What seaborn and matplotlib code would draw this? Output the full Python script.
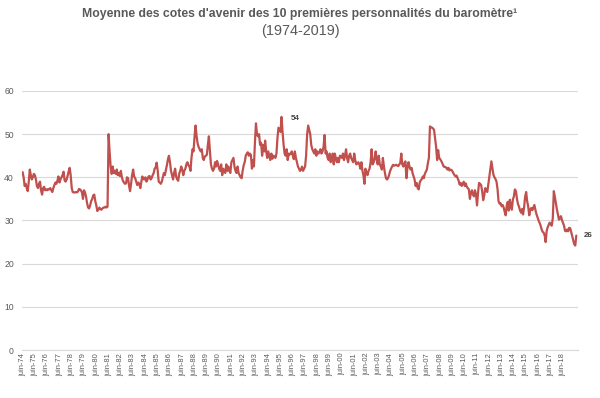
import pandas as pd
import seaborn as sns
import matplotlib.pyplot as plt

# moyenne mensuelle, une ligne = juin -> mai
debut = "1974-06-01"
cote = [
    41.2, 40, 38, 38.5, 37.5, 36.8, 39, 41.8, 40.5, 39.5, 40, 40.8,
    40.5, 39.5, 38, 37.5, 38.5, 39, 37, 36, 37.5, 37.8, 37, 37.2,
    37, 37.3, 37.2, 37.5, 37, 36.6, 37.5, 38.2, 38.8, 38.5, 39.2, 40.2,
    38.8, 39.5, 40, 40.5, 41.3, 39.3, 39, 39.5, 40.5, 41.3, 42.2, 40.5,
    37.5, 36.6, 36.5, 36.5, 36.6, 36.5, 36.7, 37.3, 37.2, 37, 36.5, 35,
    37, 36.5, 35.5, 34, 33, 32.8, 33.5, 34.5, 35, 35.8, 36, 34.5,
    33.5, 32.2, 32.5, 33, 32.6, 32.5, 32.8, 33, 33, 33.2, 33, 33.2,
    50, 46, 42.5, 40.8, 42.5, 41, 41.5, 40.8, 41.8, 40.5, 41, 40.3,
    41.5, 40, 39.2, 38.8, 38.5, 38.6, 40, 39.8, 38, 36.8, 38.5, 40.5,
    41.8, 40.2, 39.8, 39, 38.2, 38.8, 38.5, 37.5, 39, 40.2, 39.6, 39.5,
    40, 39, 39.5, 40.2, 40.3, 39.5, 39.8, 40.5, 41, 42, 42.3, 43.4,
    41.5, 39, 38.8, 38.5, 39, 40, 41, 40.5, 41.8, 42.8, 44.2, 45,
    43.5, 41.5, 40.5, 39.5, 41, 42, 40.2, 39.5, 39.2, 40.8, 41.5, 42.5,
    41.8, 40.5, 41.5, 42, 43, 43.5, 42.8, 42.5, 41.5, 44.5, 46.5, 46,
    49.5, 52, 49.5, 47.8, 47, 46.5, 46, 46.5, 44.5, 44, 44.8, 45,
    45.2, 47.5, 49.5, 46, 43, 42, 41.5, 42, 43.5, 42.5, 43.8, 43,
    42, 41.5, 43, 40.5, 42, 41.5, 41, 43, 41.5, 42.5, 41.5, 41,
    43.5, 44, 44.5, 42.5, 41.5, 41, 42.5, 41, 40.5, 40, 39.8, 41.5,
    42.8, 43.5, 45, 45.5, 45.8, 45, 45.5, 45.2, 42, 44, 42.5, 48,
    52.5, 50, 49.5, 50, 47.5, 48, 45, 47.5, 46, 48.5, 46, 44.5,
    46, 45, 44, 45.5, 44.3, 45, 44.8, 44.5, 45.5, 49, 51.5, 51,
    50.5, 54, 50.5, 47.5, 45.5, 45, 46.5, 44, 45.5, 45.3, 45.5, 46,
    45, 44.2, 46, 44.5, 43.5, 42.5, 42, 41.5, 41.8, 42.5, 41.5, 42,
    42.5, 45, 50, 52, 51, 50, 47.5, 46.5, 46, 45.5, 46.5, 45,
    46, 45.5, 45.8, 46.5, 45.5, 46, 47, 49.8, 45.5, 46, 44.5, 44,
    45.5, 43.5, 44, 45.5, 43, 45.5, 44.5, 43.5, 44.5, 43.5, 45, 44.8,
    44.5, 45.5, 44, 45, 46.5, 44.5, 43.5, 45, 45.5, 44.5, 44, 43.5,
    45.5, 44, 43, 43.2, 43.5, 43, 42, 43.5, 41.5, 40.5, 38.5, 42,
    41, 40.5, 41.5, 42, 43.5, 46.5, 43, 43.5, 44.5, 46, 44, 43,
    45, 43, 42.5, 41.8, 44.5, 42.5, 41, 39.8, 39.5, 39.8, 40.5, 41.4,
    42, 42.5, 42.9, 42.7, 42.8, 42.9, 42.7, 42.6, 43, 43.3, 45.5, 43,
    42.5, 43.2, 43.7, 39.8, 42.2, 43.5, 42.5, 41.8, 42.2, 41, 40.2, 39.5,
    38, 38.7, 37.5, 37.2, 38.8, 39.3, 39.6, 40.2, 39.8, 40.8, 41.3, 41.8,
    43.3, 44.5, 51.8, 51.6, 51.5, 51.3, 51, 49, 47, 44, 46.3, 44.5,
    44.2, 43.8, 43.3, 42.7, 42.4, 42.4, 42.2, 41.8, 42.2, 41.6, 41.8, 41.7,
    41.4, 40.9, 40.5, 40.2, 40.4, 39.8, 39.2, 38.3, 38.7, 38, 38.5, 39,
    38, 38.6, 37.8, 37.5, 37.2, 35, 36.4, 37, 36, 35.6, 37, 36,
    33.5, 36.4, 38.7, 38.5, 38.2, 36.8, 34.7, 35.8, 37.5, 37, 36.6, 38.3,
    40.2, 41.9, 43.7, 42.2, 40.6, 40, 39.6, 39, 37.2, 34.5, 33.9, 34,
    33.3, 33.6, 33, 32, 31.2, 33.5, 34.3, 32.3, 34.8, 33.5, 32.5, 34.8,
    35.6, 37.2, 36.8, 35, 33.8, 33.2, 32.3, 31.8, 32.7, 31.4, 33, 35.5,
    36.6, 34.5, 33.2, 31.2, 32.5, 32.9, 32.4, 33, 33.6, 32.5, 31.5, 30.8,
    30.1, 29.5, 28.9, 28, 27.4, 27.2, 26.6, 25, 27.6, 28.4, 29, 29.5,
    29.1, 28.8, 30.5, 36.8, 35.5, 34, 32.6, 31.4, 30.2, 30.5, 31, 30.1,
    29.4, 28.8, 27.6, 27.5, 27.9, 27.5, 28.3, 28.2, 27.3, 26.4, 25.4, 24.5,
    24.2, 26.5,
]
annees_ticks = list(range(1974, 2019))
yticks = [0, 10, 20, 30, 40, 50, 60]

titre = "Moyenne des cotes d'avenir des 10 premières personnalités du baromètre\u00b9"
sous_titre = "(1974-2019)"

gris = "#595959"
rouge = "#C0504D"


def main():
    sns.set_style("white")
    plt.rcParams["font.family"] = ["Liberation Sans", "DejaVu Sans"]

    df = pd.DataFrame({"mois": pd.date_range(debut, periods=len(cote), freq="MS"),
                       "cote": cote})

    fig = plt.figure(figsize=(6, 3.98), dpi=100)
    ax = fig.add_axes([0.037, 0.1206, 0.926, 0.6508])
    sns.lineplot(data=df, x="mois", y="cote", color=rouge, linewidth=1.6, ax=ax)

    ax.set_ylim(0, 60)
    ax.set_xlim(pd.Timestamp("1974-05-20"), pd.Timestamp("2019-08-15"))
    ax.set_yticks(yticks)
    ax.set_xticks([pd.Timestamp(f"{a}-06-01") for a in annees_ticks])
    ax.set_xticklabels([f"juin-{a % 100:02d}" for a in annees_ticks],
                       rotation=90, fontsize=5.4, color=gris)
    ax.tick_params(axis="y", labelsize=6.2, labelcolor=gris, length=0, pad=6)
    ax.tick_params(axis="x", length=0, pad=2)
    ax.set_xlabel("")
    ax.set_ylabel("")
    ax.yaxis.grid(True, color="#d9d9d9", linewidth=0.8)
    ax.xaxis.grid(False)
    for s in ["top", "right", "left"]:
        ax.spines[s].set_visible(False)
    ax.spines["bottom"].set_color("#d9d9d9")

    i_max = df["cote"].idxmax()
    ax.annotate(f"{df['cote'][i_max]:.0f}", (df["mois"][i_max], df["cote"][i_max]),
                xytext=(6.5, -1.5), textcoords="offset points", ha="left", va="center",
                fontsize=5.8, fontweight="bold", color="#404040")
    ax.annotate(f"{int(df['cote'].iloc[-1])}", (df["mois"].iloc[-1], df["cote"].iloc[-1]),
                xytext=(5.5, 0), textcoords="offset points", ha="left", va="center",
                fontsize=5.8, fontweight="bold", color="#404040")

    fig.text(0.5, 0.965, titre, ha="center", va="center", fontsize=8.8,
             fontweight="bold", color=gris)
    fig.text(0.5, 0.922, sous_titre, ha="center", va="center", fontsize=10.4, color=gris)

    fig.savefig("out.png", dpi=100)


if __name__ == "__main__":
    main()
